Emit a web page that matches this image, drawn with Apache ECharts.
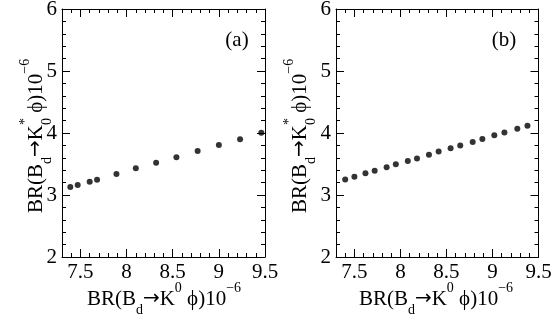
<!DOCTYPE html>
<html>
<head>
<meta charset="utf-8">
<script src="https://cdn.jsdelivr.net/npm/echarts@6/dist/echarts.min.js"></script>
<style>
html,body{margin:0;padding:0;background:#fff;}
#chart{width:554px;height:317px;}
</style>
</head>
<body>
<div id="chart"></div>
<script>
// ---- data ----
const xMajorTicks = [7.5, 8, 8.5, 9, 9.5];
const xTickLabels = ['7.5', '8', '8.5', '9', '9.5'];
const yTickLabels = ['2', '3', '4', '5', '6'];

const panelA_x = [7.39, 7.47, 7.60, 7.68, 7.89, 8.10, 8.32, 8.54, 8.77, 9.00, 9.23, 9.46];
const panelA_y = [3.13, 3.16, 3.215, 3.245, 3.34, 3.43, 3.52, 3.61, 3.71, 3.805, 3.90, 4.005];

const panelB_x = [7.40, 7.50, 7.62, 7.72, 7.85, 7.95, 8.08, 8.18, 8.31, 8.415, 8.545, 8.65, 8.785, 8.89, 9.02, 9.13, 9.27, 9.38];
const panelB_y = [3.25, 3.295, 3.35, 3.39, 3.447, 3.495, 3.548, 3.59, 3.65, 3.70, 3.753, 3.80, 3.855, 3.903, 3.963, 4.01, 4.07, 4.118];

// ---- style ----
const FONT = '"Liberation Serif", "Times New Roman", "DejaVu Serif", serif';
const BLACK = '#000';
const lineSty = { color: BLACK, width: 1 };

function xAxesFor(g) {
  const base = { gridIndex: g, type: 'value', min: 7.3, max: 9.5, splitLine: { show: false } };
  return [
    Object.assign({}, base, {
      position: 'bottom',
      axisLine: { show: true, lineStyle: lineSty },
      axisTick: { show: true, inside: true, length: 8, customValues: xMajorTicks, lineStyle: lineSty },
      axisLabel: {
        show: true, customValues: xMajorTicks, margin: 5,
        fontFamily: FONT, fontSize: 21, color: BLACK,
        formatter: function (v) { const i = xMajorTicks.indexOf(+(+v).toFixed(2)); return i >= 0 ? xTickLabels[i] : ''; }
      }
    }),
    Object.assign({}, base, {
      position: 'bottom', interval: 0.1,
      axisLine: { show: false },
      axisTick: { show: true, inside: true, length: 4, lineStyle: lineSty },
      axisLabel: { show: false }
    }),
    Object.assign({}, base, {
      position: 'top',
      axisLine: { show: true, lineStyle: lineSty },
      axisTick: { show: true, inside: true, length: 8, customValues: xMajorTicks, lineStyle: lineSty },
      axisLabel: { show: false }
    }),
    Object.assign({}, base, {
      position: 'top', interval: 0.1,
      axisLine: { show: false },
      axisTick: { show: true, inside: true, length: 4, lineStyle: lineSty },
      axisLabel: { show: false }
    })
  ];
}

function yAxesFor(g) {
  const base = {
    gridIndex: g, type: 'value', min: 2, max: 6, interval: 1,
    splitLine: { show: false },
    axisLine: { show: true, lineStyle: lineSty },
    axisTick: { show: true, inside: true, length: 8, lineStyle: lineSty },
    minorTick: { show: true, splitNumber: 5, length: 4, lineStyle: lineSty }
  };
  return [
    Object.assign({}, base, {
      position: 'left',
      axisLabel: {
        show: true, margin: 5, fontFamily: FONT, fontSize: 21, color: BLACK,
        formatter: function (v) { const i = Math.round(v) - 2; return yTickLabels[i] || ''; }
      }
    }),
    Object.assign({}, base, { position: 'right', axisLabel: { show: false } })
  ];
}

function pairs(xs, ys) { return xs.map(function (x, i) { return [x, ys[i]]; }); }

const rich = {
  m: { fontFamily: FONT, fontSize: 21, lineHeight: 36, color: BLACK },
  arr: { fontFamily: '"DejaVu Sans", sans-serif', fontSize: 20, lineHeight: 36, color: BLACK },
  sub: { fontFamily: FONT, fontSize: 14, lineHeight: 14, verticalAlign: 'bottom', color: BLACK },
  sup0: { fontFamily: FONT, fontSize: 14, lineHeight: 22, verticalAlign: 'top', color: BLACK },
  sup6: { fontFamily: FONT, fontSize: 14, lineHeight: 12, verticalAlign: 'top', color: BLACK },
  star: { fontFamily: FONT, fontSize: 14, lineHeight: 20, verticalAlign: 'top', color: BLACK, width: 0.1 }
};

const xTitle = '{m|BR(B}{sub|d}{arr|→}{m|K}{sup0|0}{m| ϕ)10}{sup6|−6}';
const yTitle = '{m|BR(B}{sub|d}{arr|→}{m|K}{star|*}{sub|0}{m| ϕ)10}{sup6|−6}';

function titleText(x, y, text, rot, align) {
  return {
    type: 'text', x: x, y: y, rotation: rot || 0,
    style: { text: text, rich: rich, align: align || 'center', verticalAlign: 'middle', fill: BLACK, font: '21px ' + FONT }
  };
}

const chart = echarts.init(document.getElementById('chart'), null, { renderer: 'canvas' });
chart.setOption({
  backgroundColor: '#fff',
  animation: false,
  grid: [
    { left: 62, top: 9, width: 203, height: 248, outerBoundsMode: 'none', containLabel: false },
    { left: 336, top: 9, width: 202.5, height: 248, outerBoundsMode: 'none', containLabel: false }
  ],
  xAxis: xAxesFor(0).concat(xAxesFor(1)),
  yAxis: yAxesFor(0).concat(yAxesFor(1)),
  series: [
    { type: 'scatter', xAxisIndex: 0, yAxisIndex: 0, data: pairs(panelA_x, panelA_y), symbolSize: 6, itemStyle: { color: BLACK } },
    { type: 'scatter', xAxisIndex: 4, yAxisIndex: 2, data: pairs(panelB_x, panelB_y), symbolSize: 6, itemStyle: { color: BLACK } }
  ],
  graphic: [
    titleText(164, 299, xTitle, 0),
    titleText(436, 299, xTitle, 0),
    titleText(36, 213, yTitle, Math.PI / 2, 'left'),
    titleText(300, 213, yTitle, Math.PI / 2, 'left'),
    { type: 'text', x: 237, y: 40, style: { text: '(a)', font: '21px ' + FONT, fill: BLACK, align: 'center', verticalAlign: 'middle' } },
    { type: 'text', x: 504, y: 40, style: { text: '(b)', font: '21px ' + FONT, fill: BLACK, align: 'center', verticalAlign: 'middle' } }
  ]
});
</script>
</body>
</html>
